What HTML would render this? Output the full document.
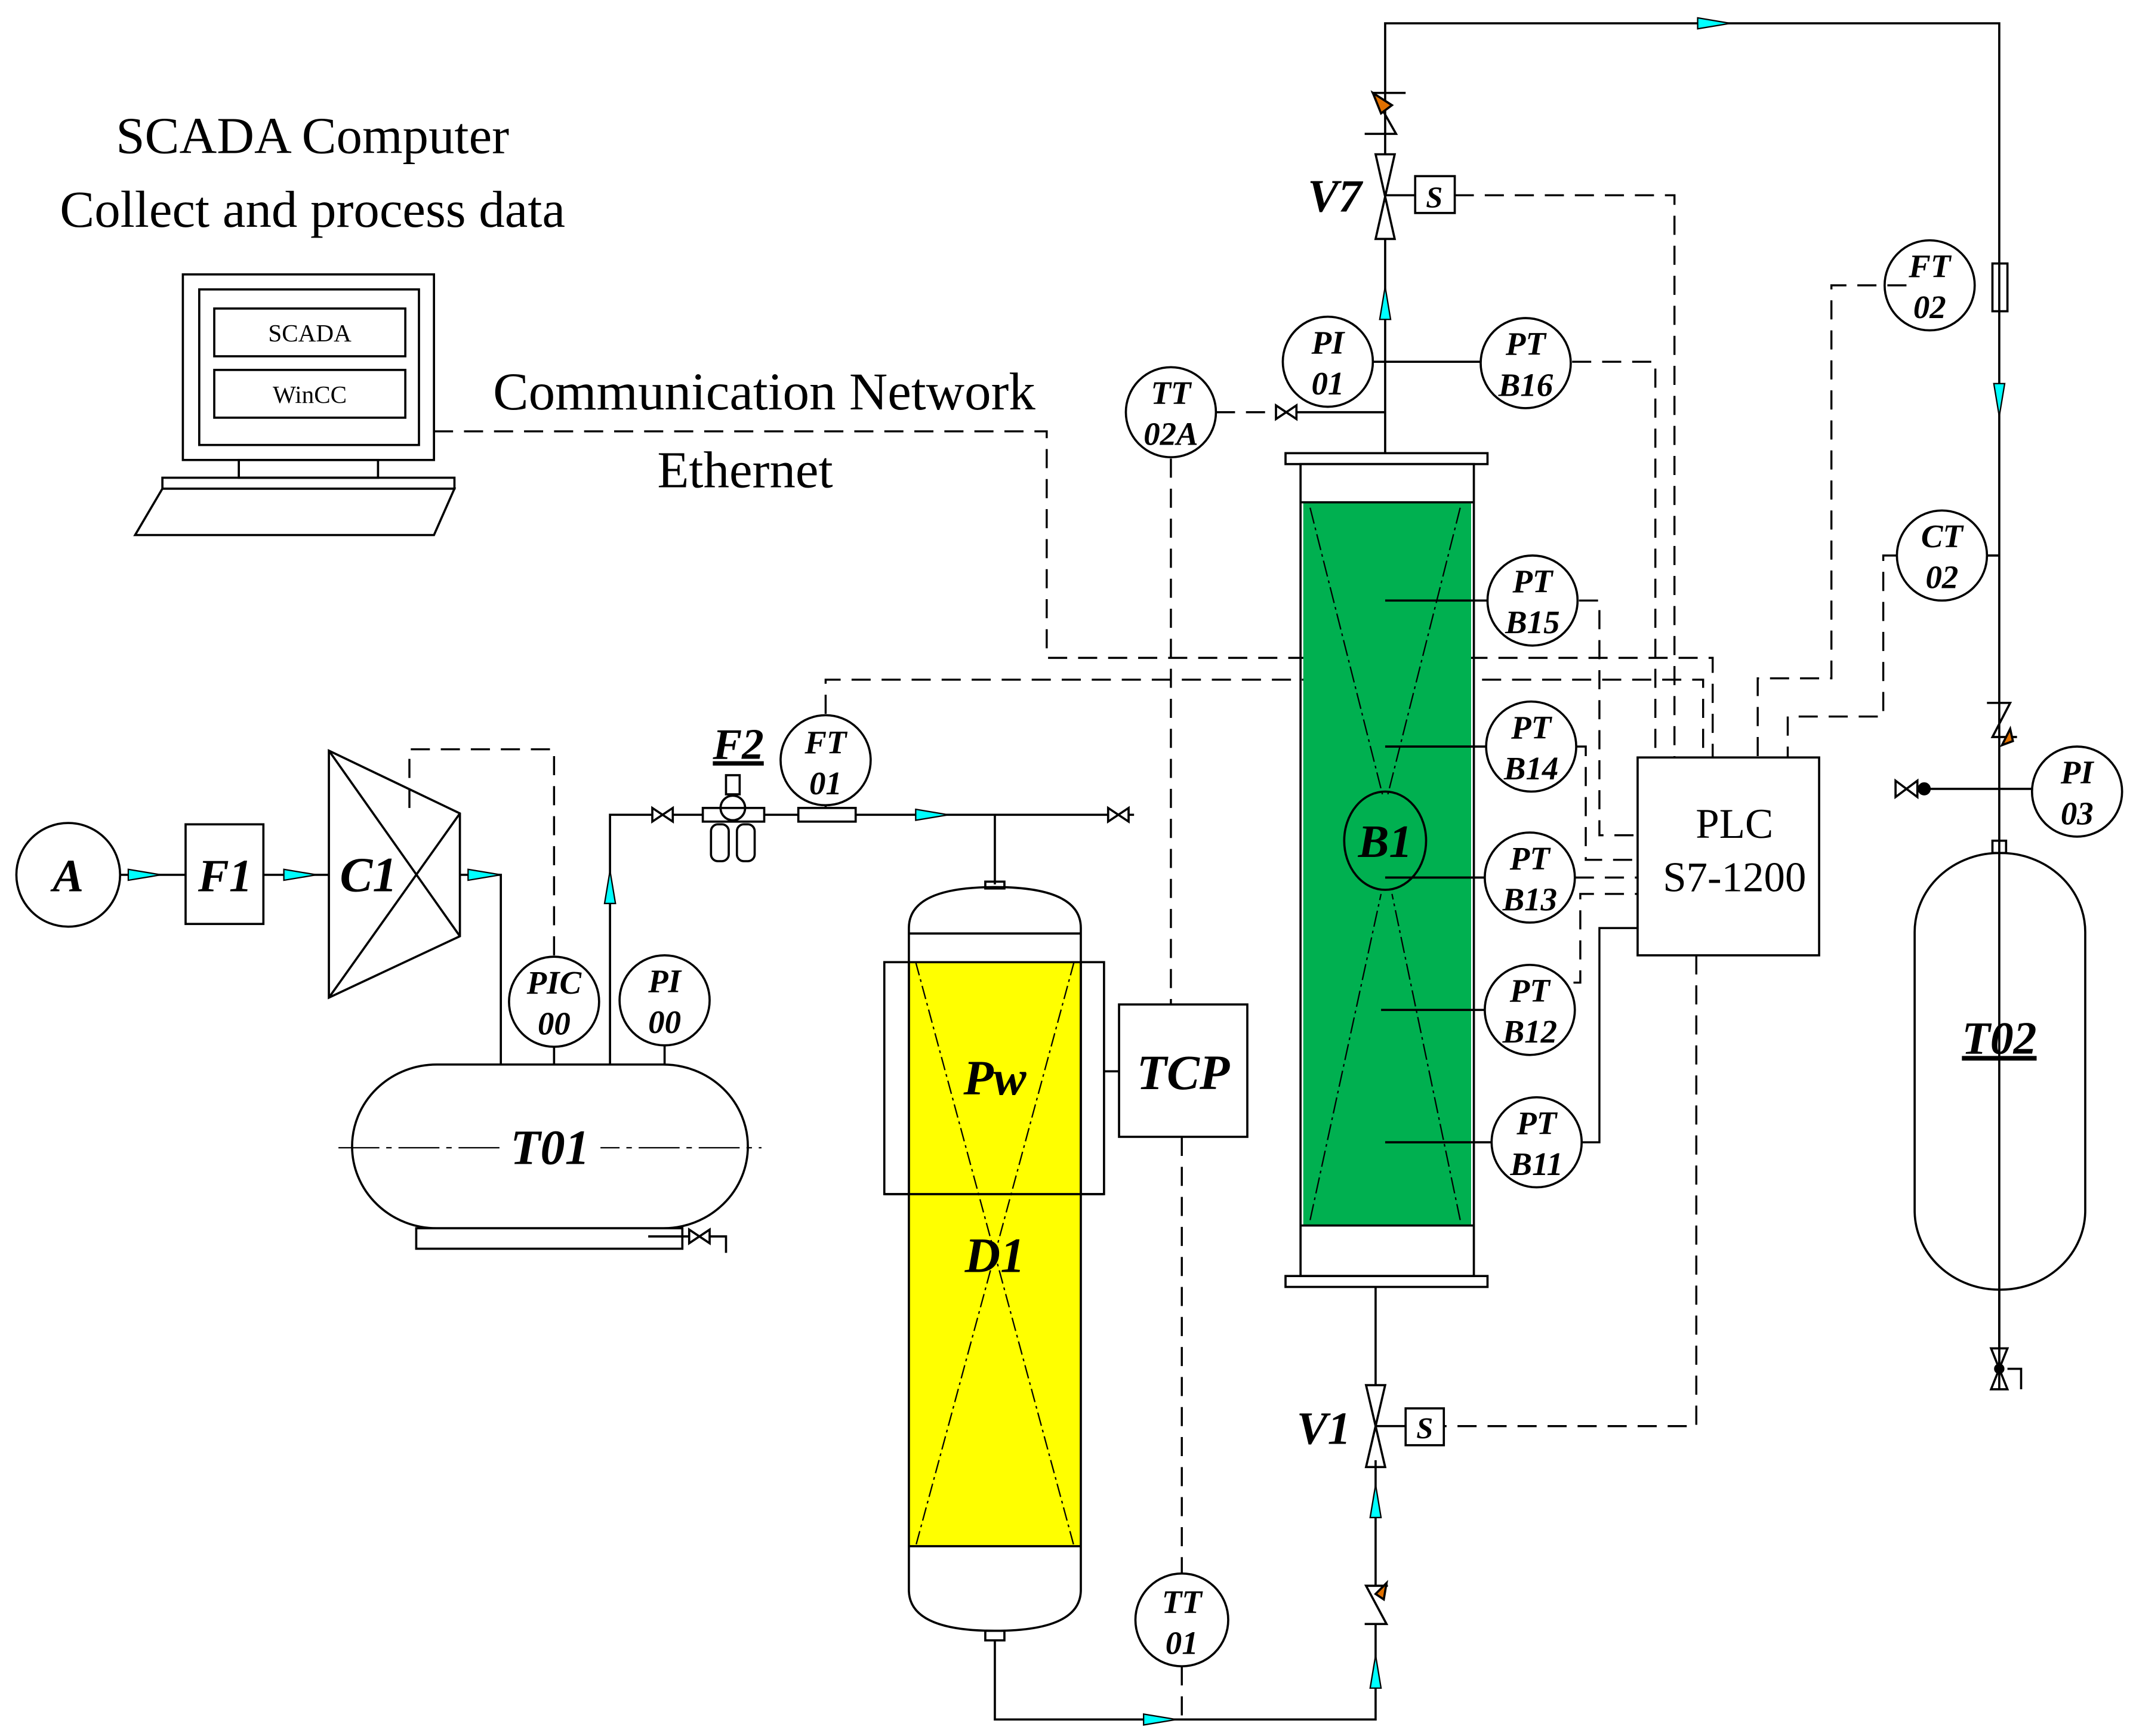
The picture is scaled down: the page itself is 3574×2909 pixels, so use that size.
<!DOCTYPE html>
<html><head><meta charset="utf-8"><style>
html,body{margin:0;padding:0;background:#fff}
svg{display:block}
text{font-family:"Liberation Serif",serif}
.t{font-weight:bold;font-style:italic;text-anchor:middle}
</style></head><body>
<svg width="3574" height="2909" viewBox="0 0 1563 1272" xmlns="http://www.w3.org/2000/svg">
<defs>
<path id="ar" d="M-12,-4 L12,0 L-12,4 Z" fill="#00ffff" stroke="#000" stroke-width="1"/>
</defs>
<g fill="none" stroke="#000" stroke-width="1.6">
<rect x="134" y="201" width="184" height="136"/>
<rect x="146" y="212" width="161" height="114"/>
<rect x="157" y="226" width="140" height="35"/>
<rect x="157" y="271" width="140" height="35"/>
<rect x="175" y="337" width="102" height="13"/>
<rect x="119" y="350" width="214" height="8"/>
<path d="M119,358 L333,358 L318,392 L99,392 Z"/>
<g stroke-dasharray="14,8" stroke-width="1.5">
<path d="M318,316 H767 V482 H1255 V555"/>
<path d="M605,523 V498 H1248 V555"/>
<path d="M1066,143 H1227 V555"/>
<path d="M1152,265 H1213 V555"/>
<path d="M1157,440 H1172 V612 H1200"/>
<path d="M1155,547 H1162 V630 H1200"/>
<path d="M1154,643 H1200"/>
<path d="M1153,720 H1158 V655 H1200"/>
<path d="M1397,209 H1342 V497 H1288 V555"/>
<path d="M1390,407 H1380 V525 H1310 V555"/>
<path d="M1243,700 V1045 H1058"/>
<path d="M858,336 V736"/>
<path d="M891,302 H935"/>
<path d="M866,833 V1153"/>
<path d="M866,1221 V1260"/>
<path d="M406,700 V549 H300 V596"/>
</g>
<path d="M1159,837 H1172 V680 H1200" stroke-width="1.5"/>
<circle cx="50" cy="641" r="38"/>
<path d="M88,641 H136"/>
<rect x="136" y="604" width="57" height="73"/>
<path d="M193,641 H241"/>
<path d="M241,550 L337,596 L337,686 L241,731 Z"/>
<path d="M241,550 L337,686 M241,731 L337,596"/>
<path d="M337,641 H367 V780"/>
<rect x="258" y="780" width="290" height="120" rx="62" ry="60"/>
<path d="M248,841 H558" stroke-dasharray="30,5,4,5" stroke-width="1"/>
<rect x="305" y="900" width="195" height="15"/>
<path d="M475,906 H505 M520,906 H532 V918"/>
<path d="M505,901 L520,911 V901 L505,911 Z"/>
<circle cx="406" cy="734" r="33"/>
<path d="M406,767 V780"/>
<circle cx="487" cy="733" r="33"/>
<path d="M487,766 V780"/>
<path d="M447,780 V597 H478 M493,597 H515"/>
<path d="M478,592 L493,602 V592 L478,602 Z"/>
<rect x="515" y="592" width="45" height="10"/>
<circle cx="537" cy="592" r="9"/>
<rect x="532" y="568" width="10" height="14"/>
<rect x="521" y="604" width="13" height="27" rx="5"/>
<rect x="540" y="604" width="13" height="27" rx="5"/>
<path d="M560,597 H585"/>
<rect x="585" y="592" width="42" height="10"/>
<circle cx="605" cy="557" r="33"/>
<path d="M605,590 V592"/>
<path d="M627,597 H812 M827,597 H831"/>
<path d="M812,592 L827,602 V592 L812,602 Z"/>
<path d="M729,597 V648"/>
<rect x="666" y="705" width="126" height="428" fill="#ffff00" stroke="none"/>
<path d="M666,680 V1165 Q666,1195 729,1195 Q792,1195 792,1165 V680 Q792,650 729,650 Q666,650 666,680 Z" />
<path d="M666,684 H792 M666,705 H792 M666,1133 H792" />
<rect x="648" y="705" width="18" height="170"/>
<rect x="792" y="705" width="17" height="170"/>
<path d="M648,875 H809"/>
<path d="M671,705 L787,1133 M787,705 L671,1133" stroke-dasharray="10,3,2,3" stroke-width="1"/>
<rect x="722" y="646" width="14" height="5"/>
<rect x="722" y="1195" width="14" height="7"/>
<rect x="820" y="736" width="94" height="97"/>
<path d="M809,785 H820"/>
<circle cx="858" cy="302" r="33"/>
<circle cx="866" cy="1187" r="34"/>
<path d="M729,1202 V1260 H1008 V1190 M1008,1162 V1070"/>
<rect x="942" y="332" width="148" height="8"/>
<rect x="942" y="935" width="148" height="8"/>
<rect x="955" y="368" width="123" height="530" fill="#00b050" stroke="none"/>
<rect x="953" y="340" width="127" height="595"/>
<path d="M953,368 H1080 M953,898 H1080"/>
<path d="M960,372 L1013,582 M1070,372 L1017,582 M960,894 L1012,655 M1070,894 L1020,655" stroke-dasharray="12,3,2,3" stroke-width="1"/>
<ellipse cx="1015" cy="616" rx="30" ry="36"/>
<circle cx="1123" cy="440" r="33"/><path d="M1015,440 H1090"/>
<circle cx="1122" cy="547" r="33"/><path d="M1015,547 H1089"/>
<circle cx="1121" cy="643" r="33"/><path d="M1015,643 H1088"/>
<circle cx="1121" cy="740" r="33"/><path d="M1012,740 H1088"/>
<circle cx="1126" cy="837" r="33"/><path d="M1015,837 H1093"/>
<circle cx="973" cy="265" r="33"/>
<circle cx="1118" cy="266" r="33"/>
<path d="M1006,265 H1085"/>
<path d="M950,302 H1015"/>
<path d="M935,297 L950,307 V297 L935,307 Z"/>
<path d="M1015,332 V175 M1015,113 V17 H1465 V1000"/>
<path d="M1008,113 L1022,113 L1008,175 L1022,175 Z"/>
<path d="M1015,143 H1037"/>
<rect x="1037" y="129" width="29" height="27"/>
<path d="M1000,98 H1023 L1006,68 H1030"/>
<path d="M1006,68 L1012,83 L1020,77 Z" fill="#e07000"/>
<path d="M1008,943 V1015"/>
<path d="M1001,1015 L1015,1015 L1001,1075 L1015,1075 Z"/>
<path d="M1008,1045 H1030"/>
<rect x="1030" y="1032" width="28" height="27"/>
<path d="M1000,1190 H1016 L1001,1162 H1017"/>
<path d="M1016,1160 L1008,1168 L1014,1172 Z" fill="#e07000"/>
<rect x="1200" y="555" width="133" height="145"/>
<rect x="1460" y="193" width="11" height="35"/>
<circle cx="1414" cy="209" r="33"/>
<circle cx="1423" cy="407" r="33"/>
<path d="M1456,407 H1465"/>
<path d="M1456,515 H1473 L1460,540 H1478"/>
<path d="M1473,534 L1467,546 L1475,543 Z" fill="#e07000"/>
<circle cx="1522" cy="580" r="33"/>
<path d="M1410,578 H1489"/>
<path d="M1389,572 L1405,584 V572 L1389,584 Z"/>
<circle cx="1410" cy="578" r="4" fill="#000"/>
<rect x="1403" y="625" width="125" height="320" rx="62" ry="58"/>
<rect x="1460" y="616" width="10" height="9"/>
<path d="M1465,640 V945" stroke-dasharray="40,6,4,6" stroke-width="1"/>
<path d="M1465,945 V1018"/>
<path d="M1459,988 L1471,988 L1459,1018 L1471,1018 Z"/>
<circle cx="1465" cy="1003" r="3" fill="#000"/>
<path d="M1471,1003 H1481 V1018"/>
</g>
<use href="#ar" transform="translate(106,641)"/>
<use href="#ar" transform="translate(220,641)"/>
<use href="#ar" transform="translate(355,641)"/>
<use href="#ar" transform="translate(447,650) rotate(-90)"/>
<use href="#ar" transform="translate(683,597)"/>
<use href="#ar" transform="translate(850,1260)"/>
<use href="#ar" transform="translate(1008,1100) rotate(-90)"/>
<use href="#ar" transform="translate(1008,1225) rotate(-90)"/>
<use href="#ar" transform="translate(1015,222) rotate(-90)"/>
<use href="#ar" transform="translate(1256,17)"/>
<use href="#ar" transform="translate(1465,293) rotate(90)"/>
<text x="229" y="112" font-size="38" text-anchor="middle">SCADA Computer</text>
<text x="229" y="166" font-size="38" text-anchor="middle">Collect and process data</text>
<text x="227" y="250" font-size="18" text-anchor="middle">SCADA</text>
<text x="227" y="295" font-size="18" text-anchor="middle">WinCC</text>
<text x="560" y="300" font-size="39" text-anchor="middle">Communication Network</text>
<text x="546" y="357" font-size="38" text-anchor="middle">Ethernet</text>
<text x="1271" y="614" font-size="31" text-anchor="middle">PLC</text>
<text x="1271" y="653" font-size="31" text-anchor="middle">S7-1200</text>
<g class="t">
<text x="50" y="653" font-size="34">A</text>
<text x="165" y="653" font-size="34">F1</text>
<text x="270" y="653" font-size="36">C1</text>
<rect x="370" y="822" width="70" height="30" fill="#fff"/>
<text x="403" y="853" font-size="36">T01</text>
<text x="541" y="556" font-size="32" text-decoration="underline">F2</text>
<text x="729" y="802" font-size="36">Pw</text>
<text x="729" y="932" font-size="36">D1</text>
<text x="867" y="798" font-size="36">TCP</text>
<text x="1015" y="628" font-size="34">B1</text>
<text x="978" y="155" font-size="34">V7</text>
<text x="970" y="1058" font-size="34">V1</text>
<text x="1051" y="152" font-size="22">S</text>
<text x="1044" y="1054" font-size="22">S</text>
<text x="1465" y="772" font-size="34" text-decoration="underline">T02</text>
</g>
<g class="t" font-size="24">
<text x="406" y="728">PIC</text><text x="406" y="758">00</text>
<text x="487" y="727">PI</text><text x="487" y="757">00</text>
<text x="605" y="552">FT</text><text x="605" y="582">01</text>
<text x="858" y="296">TT</text><text x="858" y="326">02A</text>
<text x="866" y="1182">TT</text><text x="866" y="1212">01</text>
<text x="973" y="259">PI</text><text x="973" y="289">01</text>
<text x="1118" y="260">PT</text><text x="1118" y="290">B16</text>
<text x="1123" y="434">PT</text><text x="1123" y="464">B15</text>
<text x="1122" y="541">PT</text><text x="1122" y="571">B14</text>
<text x="1121" y="637">PT</text><text x="1121" y="667">B13</text>
<text x="1121" y="734">PT</text><text x="1121" y="764">B12</text>
<text x="1126" y="831">PT</text><text x="1126" y="861">B11</text>
<text x="1414" y="203">FT</text><text x="1414" y="233">02</text>
<text x="1423" y="401">CT</text><text x="1423" y="431">02</text>
<text x="1522" y="574">PI</text><text x="1522" y="604">03</text>
</g>
</svg>
</body></html>
